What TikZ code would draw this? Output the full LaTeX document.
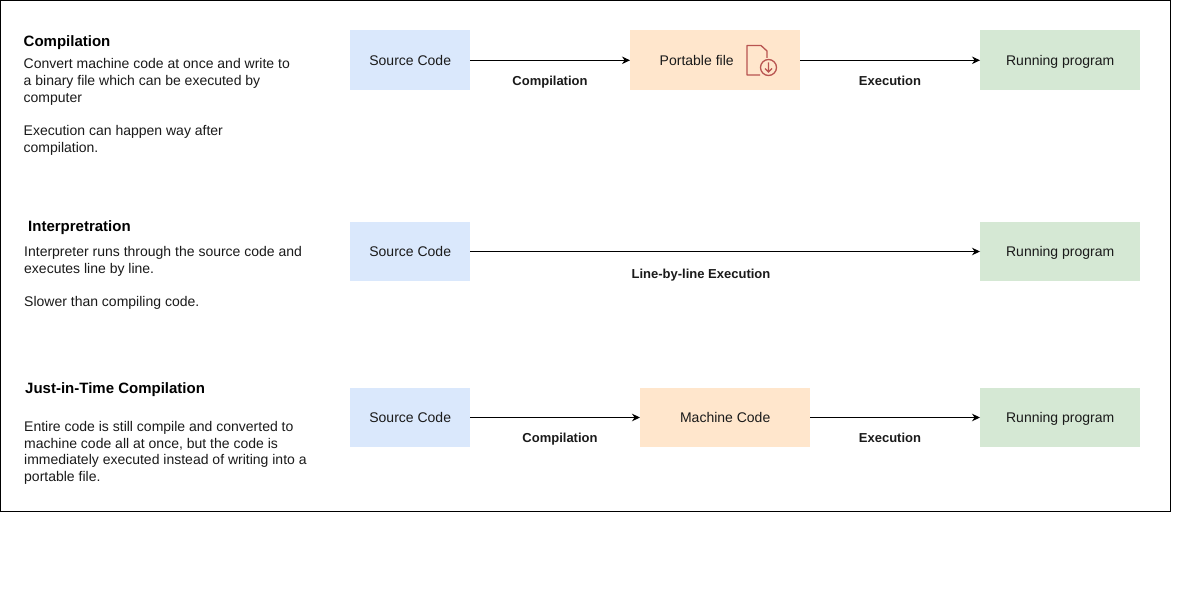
\documentclass[tikz,border=0pt]{standalone}
\usepackage{fontspec}
\setmainfont{Liberation Sans}
\usetikzlibrary{arrows.meta}
\definecolor{bluef}{HTML}{DAE8FC}
\definecolor{orangef}{HTML}{FFE6CC}
\definecolor{greenf}{HTML}{D5E8D4}
\definecolor{ink}{HTML}{1A1A1A}
\definecolor{icon}{HTML}{B85450}
\tikzset{
  x=1pt,y=-1pt,
  box/.style={minimum width=#1,minimum height=59.5pt,inner sep=0pt,anchor=center,text=ink,text height=10pt,text depth=0pt,font=\fontsize{14}{16.5}\selectfont},
  src/.style={box=120pt,fill=bluef},
  mid/.style={box=170pt,fill=orangef},
  run/.style={box=160pt,fill=greenf},
  conn/.style={draw=black,line width=1pt,-{Stealth[length=8pt,width=7.5pt]}},
  edgelab/.style={font=\fontsize{13}{16}\selectfont\bfseries,text=ink,inner sep=0pt,anchor=center,text height=10pt,text depth=0pt},
  head/.style={font=\fontsize{15}{17}\selectfont\bfseries,text=black,inner sep=0pt,anchor=base west},
  body/.style={font=\fontsize{14}{16.7}\selectfont,text=ink,inner sep=0pt,anchor=north west,align=left},
}
\begin{document}
\begin{tikzpicture}
\useasboundingbox (0,0) rectangle (1181,591);
\fill[white] (0,0) rectangle (1181,591);
\node[draw=black,line width=1pt,outer sep=0pt,minimum width=1170pt,minimum height=511pt,inner sep=0pt,anchor=north west] (frame) at (0.5,0.5) {};
% row 1
\node[src,minimum height=60pt] (s1) at (410.2,60.3) {Source Code};
\node[mid,minimum height=60pt] (m1) at (715.2,60.3) {\hspace*{-37pt}Portable file};
\node[run,minimum height=60pt] (r1) at (1060.2,60.3) {Running program};
\draw[conn] (s1) -- (m1);
\draw[conn] (m1) -- (r1);
\node[edgelab] (l1) at (550,80.5) {Compilation};
\node[edgelab] (l2) at (890,80.5) {Execution};
% icon
\draw[icon,line width=1.3pt,line join=round] (767,58) -- (767,51) -- (761,45.5) -- (747,45.5) -- (747,75) -- (760,75);
\draw[icon,line width=1.3pt] (768.5,67.5) circle (8pt);
\draw[icon,line width=1.3pt] (768.5,62.5) -- (768.5,72) (765,68.5) -- (768.5,72) -- (772,68.5);
% row 2
\node[src] (s2) at (410.2,251.5) {Source Code};
\node[run] (r2) at (1060.2,251.5) {Running program};
\draw[conn] (s2) -- (r2);
\node[edgelab] (l3) at (701,273.5) {Line-by-line Execution};
% row 3
\node[src] (s3) at (410.2,417.5) {Source Code};
\node[mid] (m3) at (725.2,417.5) {Machine Code};
\node[run] (r3) at (1060.2,417.5) {Running program};
\draw[conn] (s3) -- (m3);
\draw[conn] (m3) -- (r3);
\node[edgelab] (l4) at (560,437.5) {Compilation};
\node[edgelab] (l5) at (890,437.5) {Execution};
% text
\node[head] (h1) at (23.5,46.5) {Compilation};
\node[body] (b1) at (23.5,58.5) {Convert machine code at once and write to\\a binary file which can be executed by\\computer\\[16.7pt]Execution can happen way after\\compilation.};
\node[head] (h2) at (28,231) {Interpretration};
\node[body] (b2) at (24,246) {Interpreter runs through the source code and\\executes line by line.\\[16.7pt]Slower than compiling code.};
\node[head] (h3) at (25,393) {Just-in-Time Compilation};
\node[body] (b3) at (24,421) {Entire code is still compile and converted to\\machine code all at once, but the code is\\immediately executed instead of writing into a\\portable file.};
\end{tikzpicture}
\end{document}
